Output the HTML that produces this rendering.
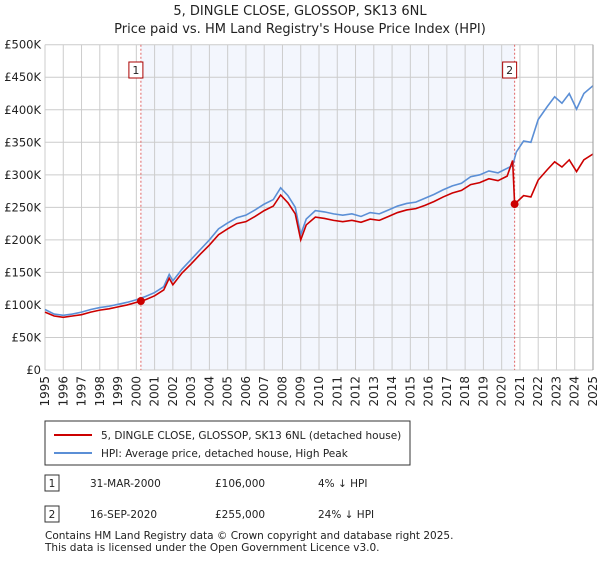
<!DOCTYPE html>
<html><head><meta charset="utf-8"><style>
body{margin:0;background:#fff;font-family:"Liberation Sans","DejaVu Sans",sans-serif}
svg text{font-family:"DejaVu Sans","Liberation Sans",sans-serif}
</style></head><body>
<svg id="c" width="600" height="560" viewBox="0 0 600 560" xmlns="http://www.w3.org/2000/svg">
<text x="300" y="15" text-anchor="middle" font-size="13" fill="#222">5, DINGLE CLOSE, GLOSSOP, SK13 6NL</text>
<text x="300" y="33" text-anchor="middle" font-size="13" fill="#222">Price paid vs. HM Land Registry's House Price Index (HPI)</text>
<g id="plot"></g>
<g>
<rect x="45" y="421" width="365" height="44" fill="#fff" stroke="#333"/>
<line x1="54" y1="435" x2="92" y2="435" stroke="#cc0000" stroke-width="2"/>
<text x="101" y="439" font-size="10.5" fill="#222">5, DINGLE CLOSE, GLOSSOP, SK13 6NL (detached house)</text>
<line x1="54" y1="453" x2="92" y2="453" stroke="#5b8fd6" stroke-width="2"/>
<text x="101" y="457" font-size="10.5" fill="#222">HPI: Average price, detached house, High Peak</text>
</g>
<g font-size="10.5" fill="#222">
<rect x="45" y="475" width="14" height="16" fill="#fff" stroke="#333"/><text x="52" y="487" text-anchor="middle">1</text>
<text x="90" y="487">31-MAR-2000</text><text x="215" y="487">£106,000</text><text x="318" y="487">4% ↓ HPI</text>
<rect x="45" y="506" width="14" height="16" fill="#fff" stroke="#333"/><text x="52" y="518" text-anchor="middle">2</text>
<text x="90" y="518">16-SEP-2020</text><text x="215" y="518">£255,000</text><text x="318" y="518">24% ↓ HPI</text>
</g>
<text x="45" y="539" font-size="10.5" fill="#222">Contains HM Land Registry data © Crown copyright and database right 2025.</text>
<text x="45" y="551" font-size="10.5" fill="#222">This data is licensed under the Open Government Licence v3.0.</text>
</svg>
<script>
const hpiDates=[1995,1995.5,1996,1996.5,1997,1997.5,1998,1998.5,1999,1999.5,2000,2000.5,2001,2001.5,2001.8,2002,2002.5,2003,2003.5,2004,2004.5,2005,2005.5,2006,2006.5,2007,2007.5,2007.9,2008.3,2008.7,2009,2009.3,2009.8,2010.3,2010.8,2011.3,2011.8,2012.3,2012.8,2013.3,2013.8,2014.3,2014.8,2015.3,2015.8,2016.3,2016.8,2017.3,2017.8,2018.3,2018.8,2019.3,2019.8,2020.3,2020.6,2020.8,2021.2,2021.6,2022,2022.5,2022.9,2023.3,2023.7,2024.1,2024.5,2025];
const hpiValues=[93,86,84,86,89,93,96,98,101,104,108,113,119,128,147,137,155,170,185,200,217,226,234,238,246,255,262,280,268,250,208,232,245,243,240,238,240,236,242,240,246,252,256,258,264,270,277,283,287,297,300,306,303,310,314,335,352,350,385,405,420,410,425,401,425,437];
const redDates=[1995,1995.5,1996,1996.5,1997,1997.5,1998,1998.5,1999,1999.5,2000,2000.25,2000.5,2001,2001.5,2001.8,2002,2002.5,2003,2003.5,2004,2004.5,2005,2005.5,2006,2006.5,2007,2007.5,2007.9,2008.3,2008.7,2009,2009.3,2009.8,2010.3,2010.8,2011.3,2011.8,2012.3,2012.8,2013.3,2013.8,2014.3,2014.8,2015.3,2015.8,2016.3,2016.8,2017.3,2017.8,2018.3,2018.8,2019.3,2019.8,2020.3,2020.6,2020.71,2021.2,2021.6,2022,2022.5,2022.9,2023.3,2023.7,2024.1,2024.5,2025];
const redValues=[89,83,81,83,85,89,92,94,97,100,104,106,108,114,123,141,131,149,163,178,192,208,217,225,228,236,245,252,269,257,240,200,223,235,233,230,228,230,227,232,230,236,242,246,248,253,259,266,272,276,285,288,294,291,298,322,255,268,266,292,308,320,312,323,305,323,332];
const saleDates=[2000.25,2020.71];
const saleValues=[106,255];
const saleLabels=["1","2"];
const yTicks=[0,50,100,150,200,250,300,350,400,450,500];
const yTickLabels=["£0","£50K","£100K","£150K","£200K","£250K","£300K","£350K","£400K","£450K","£500K"];
const xTicks=[1995,1996,1997,1998,1999,2000,2001,2002,2003,2004,2005,2006,2007,2008,2009,2010,2011,2012,2013,2014,2015,2016,2017,2018,2019,2020,2021,2022,2023,2024,2025];

const L=45,R=593,T=44.7,B=370;
const x=d=>L+(d-1995)/30*(R-L);
const y=v=>B-v/500*(B-T);
const NS="http://www.w3.org/2000/svg";
const g=document.getElementById('plot');
function mk(t,a){const e=document.createElementNS(NS,t);for(const k in a)e.setAttribute(k,a[k]);g.appendChild(e);return e;}
let e=mk('rect',{x:x(saleDates[0]),y:T,width:x(saleDates[1])-x(saleDates[0]),height:B-T,fill:'#f3f6fd'});


yTicks.forEach((v,i)=>{
 let l=mk('line',{x1:L,x2:R,y1:y(v),y2:y(v),stroke:'#cccccc'});
 
 
 let t=mk('text',{x:L-4,y:y(v)+4,'text-anchor':'end','font-size':11.5,fill:'#222'});
 t.textContent=yTickLabels[i];
 
 
});
xTicks.forEach(d=>{
 let l=mk('line',{x1:x(d),x2:x(d),y1:T,y2:B,stroke:'#cccccc'});
 
 
 let t=mk('text',{x:0,y:0,'text-anchor':'end','font-size':12,fill:'#222',transform:`translate(${x(d)+4},${B+6}) rotate(-90)`});
 t.textContent=d;
 
 
});
saleDates.forEach((d,i)=>{
 let l=mk('line',{x1:x(d),x2:x(d),y1:T,y2:B,stroke:'#e06666','stroke-dasharray':'2,2'});
 
 
});
let hp=mk('polyline',{points:hpiDates.map((d,i)=>x(d)+','+y(hpiValues[i])).join(' '),fill:'none',stroke:'#5b8fd6','stroke-width':1.6});


let rp=mk('polyline',{points:redDates.map((d,i)=>x(d)+','+y(redValues[i])).join(' '),fill:'none',stroke:'#cc0000','stroke-width':1.6});


saleDates.forEach((d,i)=>{
 let c=mk('circle',{cx:x(d),cy:y(saleValues[i]),r:4,fill:'#cc0000'});
 
 
 let b=mk('rect',{x:x(d)-12,y:62,width:14,height:16,fill:'#fff',stroke:'#aa0000'});
 
 
 let t=mk('text',{x:x(d)-5,y:74,'text-anchor':'middle','font-size':11,fill:'#222'});
 t.textContent=saleLabels[i];
 
 
});
let ax=mk('line',{x1:R,x2:R,y1:T,y2:B,stroke:'#999'});


</script>
</body></html>
